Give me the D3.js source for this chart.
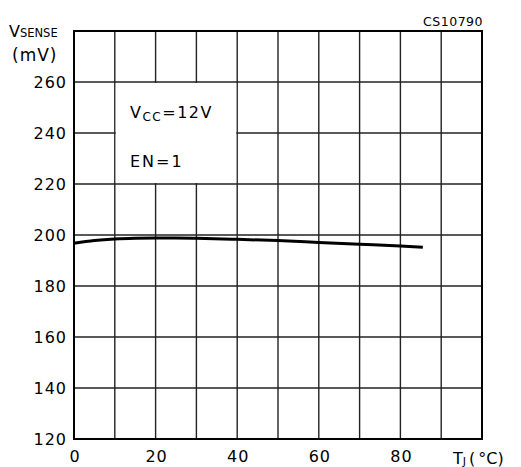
<!DOCTYPE html>
<html><head><meta charset="utf-8">
<script src="https://cdn.jsdelivr.net/npm/d3@7"></script>
<style>body{margin:0;background:#fff}svg{display:block}text{font-family:"DejaVu Sans",sans-serif;fill:#000}</style>
</head><body><svg id="c" width="521" height="467"></svg>
<script>
const temps = [0, 5, 10, 15, 20, 25, 30, 40, 50, 60, 70, 80, 85.5];
const vsense = [196.8, 197.8, 198.4, 198.7, 198.8, 198.8, 198.7, 198.3, 197.8, 197.1, 196.4, 195.7, 195.2];
const xTicks = [0, 20, 40, 60, 80];
const yTicks = [120, 140, 160, 180, 200, 220, 240, 260];
const xGrid = [0,10,20,30,40,50,60,70,80,90,100];
const yGrid = [120,140,160,180,200,220,240,260,280];

const svg = d3.select("#c");
const x = d3.scaleLinear().domain([0,100]).range([74,482]);
const y = d3.scaleLinear().domain([120,280]).range([439,31]);

const g = svg.append("g");
g.selectAll("line.v").data(xGrid).enter().append("line")
  .attr("x1", d=>x(d)).attr("x2", d=>x(d)).attr("y1", y(120)).attr("y2", y(280))
  .attr("stroke", "#222").attr("stroke-width", 1.4);
g.selectAll("line.h").data(yGrid).enter().append("line")
  .attr("y1", d=>y(d)).attr("y2", d=>y(d)).attr("x1", x(0)).attr("x2", x(100))
  .attr("stroke", "#222").attr("stroke-width", 1.4);
// white box for annotation
g.append("rect").attr("x", x(10)+1).attr("y", y(260)+1)
  .attr("width", x(40)-x(10)-2).attr("height", y(220)-y(260)-2).attr("fill", "#fff");
// frame
g.append("rect").attr("x", x(0)).attr("y", y(280)).attr("width", x(100)-x(0)).attr("height", y(120)-y(280))
  .attr("fill", "none").attr("stroke", "#000").attr("stroke-width", 2);

// axes (labels only)
const ax = svg.append("g").attr("transform", `translate(0,${y(120)})`)
  .call(d3.axisBottom(x).tickValues(xTicks).tickSize(0).tickPadding(12).tickFormat(d3.format("d")));
const ay = svg.append("g").attr("transform", `translate(${x(0)},0)`)
  .call(d3.axisLeft(y).tickValues(yTicks).tickSize(0).tickPadding(7).tickFormat(d3.format("d")));
[ax, ay].forEach(a => {
  a.select(".domain").remove();
  a.selectAll("text").attr("font-size", 16).attr("font-family", "DejaVu Sans").attr("letter-spacing", 1).attr("fill", "#000");
});
ax.selectAll("text").attr("dx", 0.5);

// curve
const line = d3.line().x((d,i)=>x(temps[i])).y(d=>y(d)).curve(d3.curveMonotoneX);
svg.append("path").datum(vsense).attr("d", line).attr("fill", "none")
  .attr("stroke", "#000").attr("stroke-width", 3).attr("stroke-linecap", "butt");

// annotation
const a1 = svg.append("text").attr("x", 130).attr("y", 118).attr("font-size", 16).attr("letter-spacing", 1.5);
a1.append("tspan").text("V");
a1.append("tspan").attr("font-size", 12).attr("dy", 3).text("CC");
a1.append("tspan").attr("dy", -3).text("=12V");
svg.append("text").attr("x", 130).attr("y", 167).attr("font-size", 16).attr("letter-spacing", 2).text("EN=1");

// y label
const yl = svg.append("text").attr("x", 9).attr("y", 37).attr("font-size", 16);
yl.append("tspan").text("V");
yl.append("tspan").attr("font-size", 11.5).attr("dy", 0).text("SENSE");
svg.append("text").attr("x", 12).attr("y", 61).attr("font-size", 17).attr("letter-spacing", 1).text("(mV)");

// x label
const xl = svg.append("text").attr("x", 453).attr("y", 464).attr("font-size", 16);
xl.append("tspan").text("T");
xl.append("tspan").attr("font-size", 11).attr("dy", 1).text("J");
xl.append("tspan").attr("dy", -1).attr("dx", 3).text("(");
xl.append("tspan").attr("dx", 3).text("°C)");

// code
svg.append("text").attr("x", 483).attr("y", 26).attr("font-size", 12.5).attr("text-anchor", "end").attr("letter-spacing", 0.5).text("CS10790");
</script></body></html>
